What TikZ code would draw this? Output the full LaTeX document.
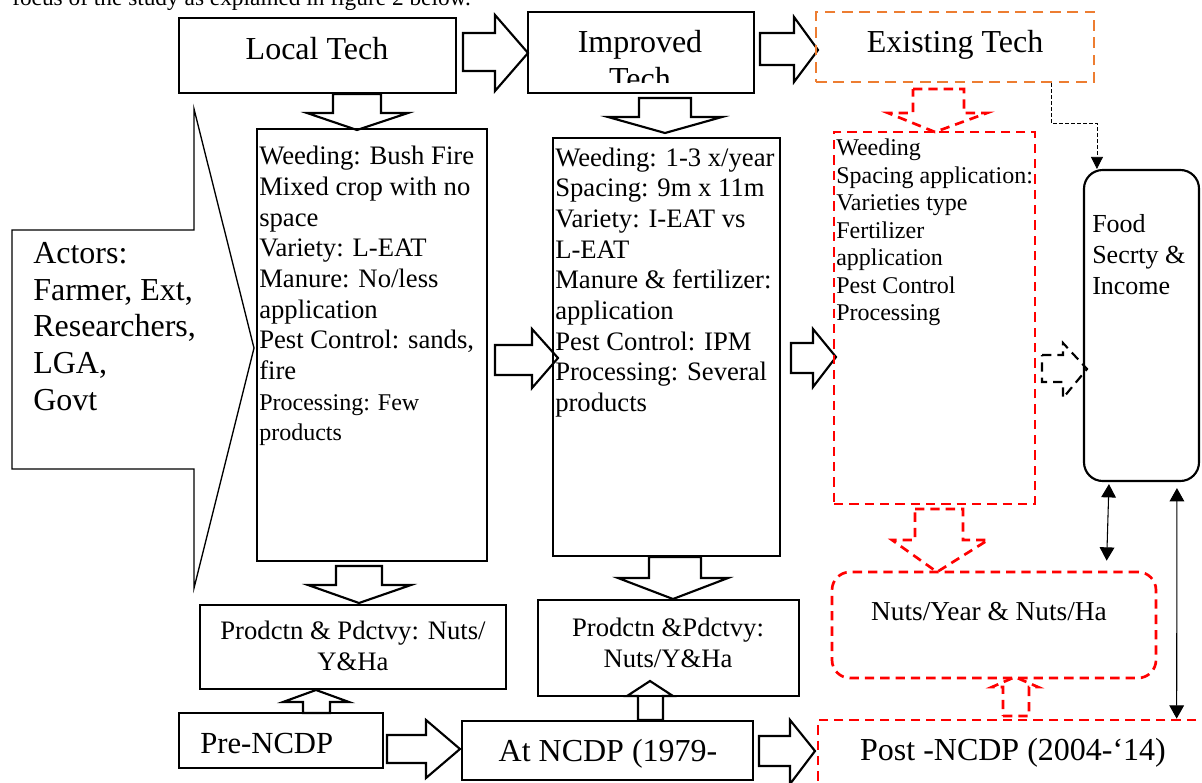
\documentclass[tikz,border=0pt]{standalone}
\usepackage{fontspec}
\setmainfont{Liberation Serif}
\usetikzlibrary{arrows.meta,fit}

\newcommand\sizeA{\fontsize{24}{27.6}\selectfont}
\newcommand\sizeB{\fontsize{20}{23}\selectfont}
\newcommand\sizeC{\fontsize{18}{20.6}\selectfont}

\definecolor{orangeline}{RGB}{237,125,49}

\tikzset{
	box/.style={draw, line width=1.6pt, inner sep=0pt},
	rbox/.style={draw=red, line width=2pt, dash pattern=on 7pt off 4.5pt, inner sep=0pt},
	obox/.style={draw=orangeline, line width=1.8pt, dash pattern=on 8pt off 5pt, inner sep=0pt},
	blk/.style={draw, line width=1.6pt, fill=white, line join=miter},
	rblk/.style={draw=red, line width=2pt, dash pattern=on 7pt off 4.5pt, fill=white},
	dblk/.style={draw, line width=1.6pt, dash pattern=on 7pt off 4.5pt, fill=white},
	txt/.style={inner sep=0pt, align=left},
	conn/.style={line width=0.8pt},
	dotconn/.style={line width=0.6pt, dash pattern=on 2.5pt off 2pt},
}

\begin{document}
\begin{tikzpicture}[x=0.75pt,y=-0.75pt,>={Triangle[length=10pt,width=11pt]}]
	\useasboundingbox (0,0) rectangle (1202,782);
	\clip (0,0) rectangle (1202,782);
	\node[txt, anchor=base west, font=\fontsize{17.5}{20}\selectfont] (intro) at (12,5) {focus of the study as explained in figure 2 below.};
	% block arrows
	\draw[blk] (463,33) -- (495,33) -- (495,15) -- (528,53) -- (495,91) -- (495,71) -- (463,71) -- cycle;
	\draw[blk] (760,33) -- (794,33) -- (794,17) -- (818,50) -- (794,82) -- (794,65) -- (760,65) -- cycle;
	\draw[blk] (495,345) -- (532,345) -- (532,329) -- (558,358) -- (532,388) -- (532,375) -- (495,375) -- cycle;
	\draw[blk] (791,343) -- (813,343) -- (813,329) -- (836,357) -- (813,387) -- (813,373) -- (791,373) -- cycle;
	\draw[blk] (387,735) -- (426,735) -- (426,720) -- (460,749) -- (426,778) -- (426,763) -- (387,763) -- cycle;
	\draw[blk] (759,736) -- (790,736) -- (790,720) -- (815,751) -- (790,784) -- (790,766) -- (759,766) -- cycle;
	\draw[dblk] (1042,355) -- (1063,355) -- (1063,343) -- (1087,369) -- (1063,398) -- (1063,382) -- (1042,382) -- cycle;
	\draw[blk] (333,94) -- (381,94) -- (381,113) -- (408,113) -- (357,130) -- (307,113) -- (333,113) -- cycle;
	\draw[blk] (639,98) -- (691,98) -- (691,117) -- (722,117) -- (665,133) -- (608,117) -- (639,117) -- cycle;
	\draw[rblk] (913,89) -- (964,89) -- (964,113) -- (987,113) -- (935,132) -- (888,113) -- (913,113) -- cycle;
	\draw[blk] (336,566) -- (382,566) -- (382,585) -- (411,585) -- (359,603) -- (308,585) -- (336,585) -- cycle;
	\draw[blk] (649,557) -- (701,557) -- (701,578) -- (728,578) -- (673,599) -- (618,578) -- (649,578) -- cycle;
	\draw[rblk] (915,509) -- (963,509) -- (963,540) -- (988,540) -- (937,572) -- (892,540) -- (915,540) -- cycle;
	\draw[blk] (303,713) -- (330,713) -- (330,702) -- (349,702) -- (316,690) -- (283,702) -- (303,702) -- cycle;
	\draw[blk] (638,720) -- (663,720) -- (663,696) -- (673,696) -- (650,681) -- (627,696) -- (638,696) -- cycle;
	\draw[rblk] (1003,716) -- (1029,716) -- (1029,687) -- (1038,687) -- (1015,677) -- (992,687) -- (1003,687) -- cycle;
	% top row
	\node[box, fit={(179,18) (456,93)}] (local) {};
	\node[box, fit={(528,12) (754,93)}] (improved) {};
	\node[obox, fit={(816,12) (1094,82)}] (exist) {};
	\node[txt, anchor=base, font=\sizeA] (localtxt) at (317,59) {Local Tech};
	\begin{scope}
		\clip (528,12) rectangle (754,82);
		\node[txt, anchor=north, align=center, font=\sizeA] (improvedtxt) at (640,30) {Improved\\Tech};
	\end{scope}
	\node[txt, anchor=base, font=\sizeA] (existtxt) at (955,52) {Existing Tech};
	% actors
	\draw[line width=1pt, line join=miter] (12,230) -- (194,230) -- (194,109) -- (254,348) -- (194,588) -- (194,469) -- (12,469) -- cycle;
	\node[txt, anchor=north west, font=\fontsize{24}{27.6}\selectfont] (actors) at (33,242) {Actors:\\Farmer, Ext,\\Researchers,\\LGA,\\Govt};
	% middle row
	\node[box, fit={(257,129) (487,561)}] (localw) {};
	\node[box, fit={(553,138) (780,556)}] (imprw) {};
	\node[rbox, fit={(834,132) (1035,504)}] (existw) {};
	\node[box, rounded corners=14pt, fit={(1084,170) (1199,481)}] (food) {};
	\node[txt, anchor=north west, font=\sizeB] (localwtxt) at (259,146) {Weeding: Bush Fire\\Mixed crop with no\\space\\Variety: L-EAT\\Manure: No/less\\application\\Pest Control: sands,\\fire\\{\sizeC Processing: Few}\\{\sizeC products}};
	\node[txt, anchor=north west, font=\sizeB] (imprwtxt) at (555,147.5) {Weeding: 1-3 x/year\\Spacing: 9m x 11m\\Variety: I-EAT vs\\L-EAT\\Manure \& fertilizer:\\application\\Pest Control: IPM\\Processing: Several\\products};
	\node[txt, anchor=north west, font=\sizeC] (existwtxt) at (836,139) {Weeding\\Spacing application:\\Varieties type\\Fertilizer\\application\\Pest Control\\Processing};
	\node[txt, anchor=north west, font=\fontsize{19.5}{23.25}\selectfont] (foodtxt) at (1092,214) {Food\\Secrty \&\\Income};
	% bottom rows
	\node[box, fit={(200,605) (506,689)}] (prod1) {};
	\node[box, fit={(538,600) (799,696)}] (prod2) {};
	\node[rbox, rounded corners=13.5pt, fit={(832,572) (1156,678)}] (nuts) {};
	\node[box, fit={(179,713) (383,768)}] (pre) {};
	\node[box, fit={(462,721) (753,780)}] (atn) {};
	\node[rbox, fit={(818,720) (1220,800)}] (post) {};
	\node[txt, anchor=north, align=center, font=\sizeB] (prod1txt) at (353,621) {Prodctn \& Pdctvy: Nuts/\\Y\&Ha};
	\node[txt, anchor=north, align=center, font=\sizeB] (prod2txt) at (668,618) {Prodctn \&Pdctvy:\\Nuts/Y\&Ha};
	\node[txt, anchor=base, font=\fontsize{20.5}{24}\selectfont] (nutstxt) at (989,620) {Nuts/Year \& Nuts/Ha};
	\node[txt, anchor=base west, font=\fontsize{23}{27}\selectfont] (pretxt) at (200,753) {Pre-NCDP};
	\node[txt, anchor=base, font=\sizeA] (atntxt) at (608,761) {At NCDP (1979-};
	\node[txt, anchor=base, font=\sizeA] (posttxt) at (1013,760) {Post -NCDP (2004-‘14)};
	% thin connectors
	\draw[dotconn, -{Triangle[length=9pt,width=9pt]}] ([xshift=-33pt]exist.south east) -- ++(0,40) -| ([xshift=10.5pt]food.north west);
	\draw[conn, <->] ([xshift=19.5pt,yshift=-1.5pt]food.south west) -- ([xshift=207pt,yshift=7.5pt]nuts.north west);
	\draw[conn, <->] ([xshift=70.5pt,yshift=-4.5pt]food.south west) -- ([xshift=270pt]post.north west);
\end{tikzpicture}
\end{document}
